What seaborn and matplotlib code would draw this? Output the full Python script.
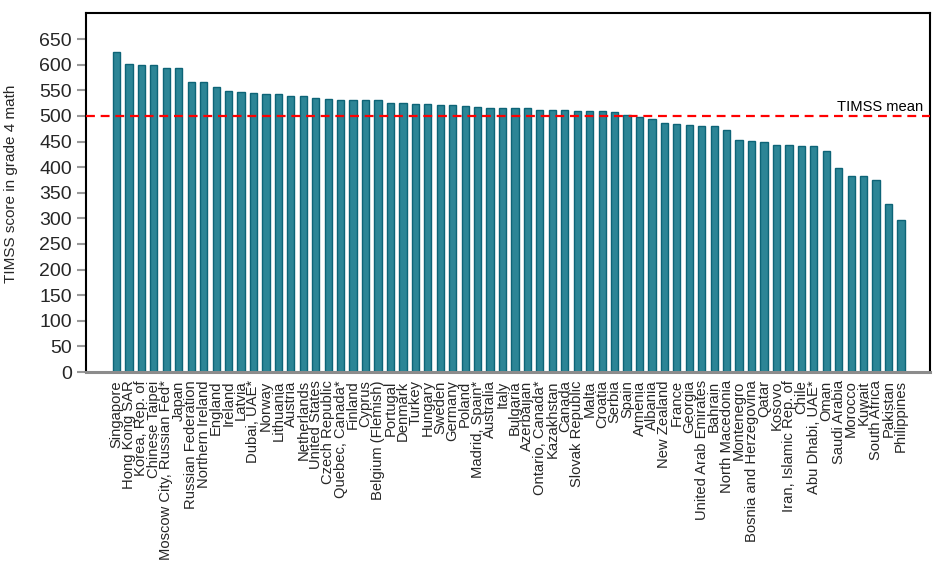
import matplotlib
matplotlib.use("Agg")
import matplotlib.pyplot as plt
import seaborn as sns
import pandas as pd

countries = [
    "Singapore", "Hong Kong SAR", "Korea, Rep. of", "Chinese Taipei",
    "Moscow City, Russian Fed*", "Japan", "Russian Federation", "Northern Ireland",
    "England", "Ireland", "Latvia", "Dubai, UAE*", "Norway", "Lithuania", "Austria",
    "Netherlands", "United States", "Czech Republic", "Quebec, Canada*", "Finland",
    "Cyprus", "Belgium (Flemish)", "Portugal", "Denmark", "Turkey", "Hungary",
    "Sweden", "Germany", "Poland", "Madrid, Spain*", "Australia", "Italy",
    "Bulgaria", "Azerbaijan", "Ontario, Canada*", "Kazakhstan", "Canada",
    "Slovak Republic", "Malta", "Croatia", "Serbia", "Spain", "Armenia", "Albania",
    "New Zealand", "France", "Georgia", "United Arab Emirates", "Bahrain",
    "North Macedonia", "Montenegro", "Bosnia and Herzegovina", "Qatar", "Kosovo",
    "Iran, Islamic Rep. of", "Chile", "Abu Dhabi, UAE*", "Oman", "Saudi Arabia",
    "Morocco", "Kuwait", "South Africa", "Pakistan", "Philippines",
]
scores = [
    625, 602, 600, 599, 593, 593, 567, 566, 556, 548, 546, 544, 543, 542, 539,
    538, 535, 533, 532, 532, 532, 532, 525, 525, 523, 523, 521, 521, 520, 518,
    516, 515, 515, 515, 512, 512, 512, 510, 509, 509, 508, 502, 498, 494, 487,
    485, 482, 481, 480, 472, 453, 452, 449, 444, 443, 441, 441, 431, 398, 383,
    383, 374, 328, 297,
]
timss_mean = 500
y_ticks = list(range(0, 651, 50))

df = pd.DataFrame({"country": countries, "score": scores})

sns.set_theme(style="white")
plt.rcParams["font.family"] = ["Liberation Sans", "DejaVu Sans"]

fig = plt.figure(figsize=(9.41, 5.79), dpi=100)
ax = fig.add_axes([0.0914, 0.3575, 0.8969, 0.62])

sns.barplot(data=df, x="country", y="score", order=countries, ax=ax,
            color="#2c8596", saturation=1, width=0.58,
            edgecolor="#0d6477", linewidth=1.0)

ax.axhline(timss_mean, color="#ff0000", linestyle=(0, (4, 2.6)), linewidth=1.6, zorder=3)
ax.text(0.9915, timss_mean + 3, "TIMSS mean", transform=ax.get_yaxis_transform(),
        ha="right", va="bottom", fontsize=10.6, color="black")

ax.set_xlim(-2.45, len(countries) - 1 + 2.33)
ax.set_ylim(0, 701)
ax.set_yticks(y_ticks)
ax.set_yticklabels([str(v) for v in y_ticks], fontsize=14)
ax.set_xlabel("")
ax.set_ylabel("TIMSS score in grade 4 math", fontsize=11)
ax.yaxis.set_label_coords(-0.08, 0.525)
ax.tick_params(axis="x", rotation=90, labelsize=10.6, length=0, pad=6)
ax.tick_params(axis="y", left=True, length=6.5, width=1.5, color="#999999", pad=3.5)
for lbl in ax.get_xticklabels():
    lbl.set_va("top")

for side in ["top", "right", "left"]:
    ax.spines[side].set_color("black")
    ax.spines[side].set_linewidth(1.5)
ax.spines["bottom"].set_color("#8c8c8c")
ax.spines["bottom"].set_linewidth(2.2)

fig.savefig("out.png", dpi=100)
